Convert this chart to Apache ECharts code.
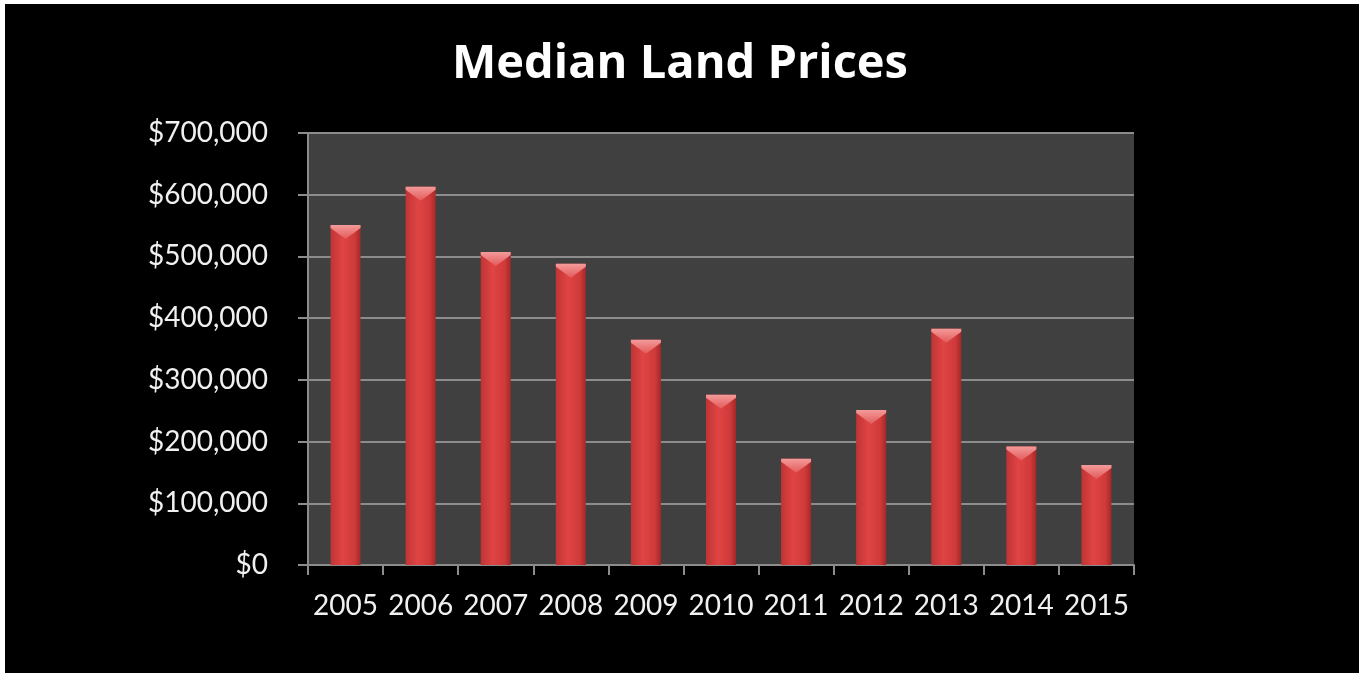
<!DOCTYPE html>
<html>
<head>
<meta charset="utf-8">
<script src="https://cdn.jsdelivr.net/npm/echarts@6/dist/echarts.min.js"></script>
<style>
  html, body { margin: 0; padding: 0; background: #fff; }
  #frame { position: absolute; left: 5px; top: 4px; width: 1354px; height: 669px; background: #000; }
  #chart { position: absolute; left: -5px; top: -4px; width: 1360px; height: 674px; }
</style>
</head>
<body>
<div id="frame"><div id="chart"></div></div>
<script>
// data
const years = ['2005', '2006', '2007', '2008', '2009', '2010', '2011', '2012', '2013', '2014', '2015']
const prices = [551000, 613000, 507000, 488000, 365000, 276000, 172000, 251000, 383000, 192000, 162000]
const yTicks = [0, 100000, 200000, 300000, 400000, 500000, 600000, 700000]

const money = v => '$' + String(v).replace(/(?=(?!\b)(\d{3})+$)/g, ',')

let chart = echarts.init(document.getElementById('chart'))
let option = {
    backgroundColor: 'transparent',
    title: {
        text: 'Median Land Prices',
        left: 'center',
        top: 36,
        textStyle: {
            color: '#ffffff',
            fontFamily: 'Open Sans',
            fontWeight: 'bold',
            fontSize: 47
        }
    },
    grid: {
        left: 308,
        right: 226,
        top: 133,
        bottom: 109,
        show: true,
        backgroundColor: '#404040',
        borderWidth: 0
    },
    xAxis: {
        type: 'category',
        data: years,
        axisLine: { lineStyle: { color: '#8c8c8c', width: 2 } },
        axisTick: { show: true, length: 10, lineStyle: { color: '#8c8c8c', width: 2 } },
        axisLabel: { color: '#f0f0f0', fontFamily: 'Lato', fontSize: 28, margin: 27, interval: 0 }
    },
    yAxis: {
        type: 'value',
        min: yTicks[0],
        max: yTicks[yTicks.length - 1],
        interval: yTicks[1] - yTicks[0],
        axisLine: { show: true, lineStyle: { color: '#8c8c8c', width: 2 } },
        axisTick: { show: true, length: 10, lineStyle: { color: '#8c8c8c', width: 2 } },
        splitLine: { lineStyle: { color: '#8c8c8c', width: 2 } },
        axisLabel: { color: '#f0f0f0', fontFamily: 'Lato', fontSize: 28, margin: 40, formatter: money }
    },
    series: [{
        type: 'bar',
        data: prices,
        barWidth: 30,
        itemStyle: {
            color: new echarts.graphic.LinearGradient(0, 0, 1, 0, [
                { offset: 0, color: '#c03434' },
                { offset: 0.4, color: '#e04444' },
                { offset: 0.8, color: '#d03a3a' },
                { offset: 1, color: '#a42828' }
            ]),
            shadowColor: 'rgba(0,0,0,0.5)',
            shadowBlur: 6,
            shadowOffsetX: 3
        },
        z: 2
    }, {
        type: 'pictorialBar',
        data: prices,
        symbol: 'path://M0,0 L30,0 L30,3 L15,14 L0,3 Z',
        symbolSize: [30, 14],
        symbolPosition: 'end',
        symbolOffset: [0, 0],
        itemStyle: {
            color: new echarts.graphic.LinearGradient(0, 0, 0, 1, [
                { offset: 0, color: '#f49a9a' },
                { offset: 1, color: '#e35a5a' }
            ])
        },
        z: 3
    }]
}
chart.setOption(option)
</script>
</body>
</html>
